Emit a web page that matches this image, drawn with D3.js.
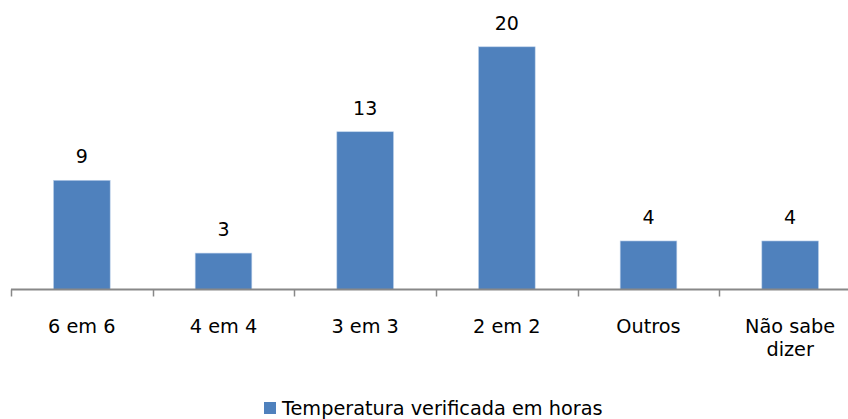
<!DOCTYPE html>
<html><head><meta charset="utf-8">
<script src="https://cdn.jsdelivr.net/npm/d3@7"></script>
<style>body{margin:0;background:#fff;} text{font-family:"DejaVu Sans",Verdana,sans-serif;fill:#000;}</style>
</head><body>
<svg id="c" width="848" height="419"></svg>
<script>
const categories = ["6 em 6","4 em 4","3 em 3","2 em 2","Outros","Não sabe dizer"];
const values = [9,3,13,20,4,4];
const seriesName = "Temperatura verificada em horas";

const svg = d3.select("#c");
const x = d3.scaleBand().domain(categories).range([11, 861]).paddingInner(0.6).paddingOuter(0.3);
const y = d3.scaleLinear().domain([0, 20]).range([289.5, 46.8]);
const color = "#4F81BD";

svg.selectAll("rect.bar").data(values).enter().append("rect")
  .attr("class","bar")
  .attr("x",(d,i)=>x(categories[i]))
  .attr("width",x.bandwidth())
  .attr("y",d=>y(d))
  .attr("height",d=>y(0)-y(d))
  .attr("fill",color)
  .attr("stroke","#bcd0ea").attr("stroke-width",0.6);

svg.selectAll("text.val").data(values).enter().append("text")
  .attr("class","val")
  .attr("x",(d,i)=>x(categories[i])+x.bandwidth()/2)
  .attr("y",d=>y(d)-17)
  .attr("text-anchor","middle")
  .attr("font-size","19px")
  .text(d=>d);

// axis
const step = x.step();
const x0 = 11;
const ax = svg.append("g");
ax.append("line").attr("x1",x0).attr("x2",861).attr("y1",289.5).attr("y2",289.5)
  .attr("stroke","#888").attr("stroke-width",2);
const ticks = d3.range(categories.length+1).map(i=>x0+i*step);
ax.selectAll("line.t").data(ticks).enter().append("line")
  .attr("x1",d=>Math.round(d)+0.5).attr("x2",d=>Math.round(d)+0.5)
  .attr("y1",289.5).attr("y2",296.5)
  .attr("stroke","#888").attr("stroke-width",1.5);

// category labels
const lines = {"Não sabe dizer":["Não sabe","dizer"]};
categories.forEach(c=>{
  const ls = lines[c]||[c];
  const t = svg.append("text").attr("text-anchor","middle").attr("font-size","19.3px")
    .attr("x",x(c)+x.bandwidth()/2).attr("y",333);
  ls.forEach((l,j)=>t.append("tspan").attr("x",x(c)+x.bandwidth()/2).attr("dy",j?23:0).text(l));
});

// legend
svg.append("rect").attr("x",264).attr("y",402).attr("width",12).attr("height",12).attr("fill",color);
svg.append("text").attr("x",282).attr("y",414.5).attr("font-size","19.3px").text(seriesName);
</script>
</body></html>
